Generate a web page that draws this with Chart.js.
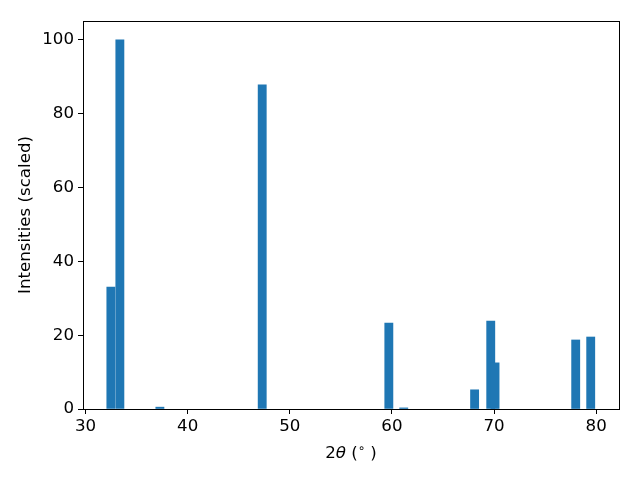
<!DOCTYPE html>
<html>
<head>
<meta charset="utf-8">
<script src="https://cdn.jsdelivr.net/npm/chart.js@4"></script>
<style>
  html, body { margin: 0; padding: 0; background: #fff; }
</style>
</head>
<body>
<canvas id="xrd" width="640" height="480"></canvas>
<script>
// peak positions (2theta, degrees) and scaled intensities
const twoTheta = [32.48, 33.36, 37.28, 47.30, 59.70, 61.16, 68.10, 69.68, 70.10, 78.00, 79.47];
const intensity = [33.0, 100.0, 0.5, 87.8, 23.3, 0.3, 5.2, 23.8, 12.5, 18.7, 19.5];
const xTicks = [30, 40, 50, 60, 70, 80];
const yTicks = [0, 20, 40, 60, 80, 100];

const FONT = 'DejaVu Sans';
const FS = 16.67;

// box around plot + mathtext-ish x label
const framePlugin = {
    id: 'frame',
    afterDraw(chart) {
        const { ctx, chartArea: a } = chart;
        ctx.save();
        ctx.strokeStyle = '#000';
        ctx.lineWidth = 1;
        ctx.strokeRect(Math.round(a.left) + 0.5, Math.round(a.top) + 0.5,
            Math.round(a.right - a.left), Math.round(a.bottom - a.top));

        // "2θ (°)" with italic theta and raised degree sign
        const parts = [
            { t: '2', f: `${FS}px "${FONT}"`, dy: 0 },
            { t: 'θ', f: `italic ${FS}px "${FONT}"`, dy: 0 },
            { t: ' (', f: `${FS}px "${FONT}"`, dy: 0 },
            { t: '∘', f: `${FS * 0.7}px "${FONT}"`, dy: -6 },
            { t: ' )', f: `${FS}px "${FONT}"`, dy: 0 }
        ];
        let total = 0;
        parts.forEach(p => { ctx.font = p.f; p.w = ctx.measureText(p.t).width; total += p.w; });
        let x = (a.left + a.right) / 2 - total / 2;
        const y = 458;
        ctx.fillStyle = '#000';
        ctx.textBaseline = 'alphabetic';
        ctx.textAlign = 'left';
        parts.forEach(p => { ctx.font = p.f; ctx.fillText(p.t, x, y + p.dy); x += p.w; });
        ctx.restore();
    }
};

new Chart(document.getElementById('xrd'), {
    type: 'bar',
    data: {
        datasets: [{
            data: twoTheta.map((x, i) => ({ x: x, y: intensity[i] })),
            backgroundColor: '#1f77b4',
            borderWidth: 0,
            barThickness: 8.2
        }]
    },
    options: {
        responsive: false,
        animation: false,
        devicePixelRatio: 1,
        layout: { padding: { top: 21, right: 21, left: 0, bottom: 0 } },
        plugins: { legend: { display: false }, tooltip: { enabled: false } },
        scales: {
            x: {
                type: 'linear',
                min: 29.75,
                max: 82.24,
                offset: false,
                afterBuildTicks: s => { s.ticks = xTicks.map(v => ({ value: v })); },
                afterFit: s => { s.height = 71; },
                grid: { offset: false, drawOnChartArea: false, drawTicks: true, tickLength: 5, color: '#000', tickColor: '#000' },
                border: { display: false },
                ticks: { color: '#000', font: { family: FONT, size: FS }, padding: 3, maxRotation: 0 }
            },
            y: {
                min: 0,
                max: 105.1,
                afterBuildTicks: s => { s.ticks = yTicks.map(v => ({ value: v })); },
                afterFit: s => { s.width = 83; },
                grid: { drawOnChartArea: false, drawTicks: true, tickLength: 5, color: '#000', tickColor: '#000' },
                border: { display: false },
                ticks: { color: '#000', font: { family: FONT, size: FS }, padding: 4 },
                title: {
                    display: true,
                    text: 'Intensities (scaled)',
                    color: '#000',
                    font: { family: FONT, size: FS },
                    padding: { top: 16, bottom: 0 }
                }
            }
        }
    },
    plugins: [framePlugin]
});
</script>
</body>
</html>
